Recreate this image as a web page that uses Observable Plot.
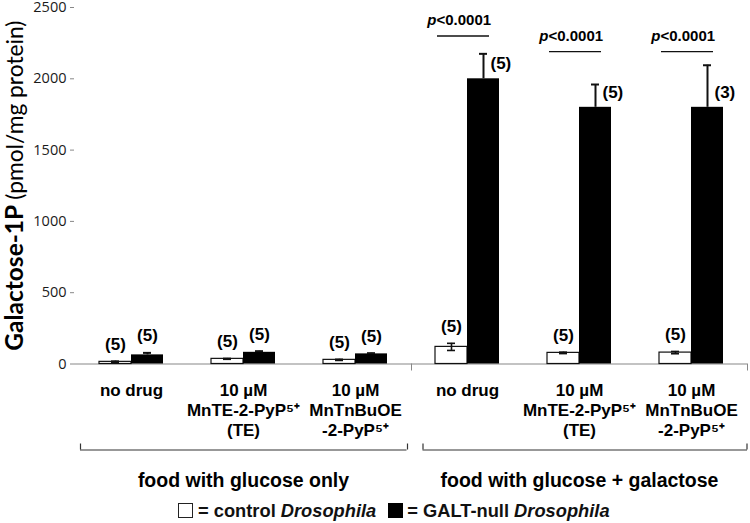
<!DOCTYPE html>
<html><head><meta charset="utf-8">
<script src="https://cdn.jsdelivr.net/npm/d3@7"></script>
<script src="https://cdn.jsdelivr.net/npm/@observablehq/plot@0.6"></script>
<style>
body{margin:0;background:#fff;}
#chart{width:750px;}
#chart svg{display:block;}
.legend{height:27px;display:flex;align-items:center;padding-left:178px;padding-top:2px;box-sizing:border-box;font-family:"Liberation Sans",Arial,sans-serif;font-weight:bold;font-size:18.3px;color:#111;}
.sw{display:inline-block;width:13px;height:13px;border:1.5px solid #222;margin-right:5px;box-sizing:content-box;}
.sw.black{background:#000;border-color:#000;margin-left:12px;margin-right:4px;}
.legend i{font-style:italic;}
</style></head><body><div id="chart"></div>
<div class="legend"><span class="sw"></span><span>= control <i>Drosophila</i></span><span class="sw black"></span><span>= GALT-null <i>Drosophila</i></span></div>
<script>
const groups = ["g1","g2","g3","g4","g5","g6"];
const catLabels = ["no drug", "10 µM\nMnTE-2-PyP⁵⁺\n(TE)", "10 µM\nMnTnBuOE\n-2-PyP⁵⁺", "no drug", "10 µM\nMnTE-2-PyP⁵⁺\n(TE)", "10 µM\nMnTnBuOE\n-2-PyP⁵⁺"];
const controlMean = [15, 36, 29, 120, 78, 80];
const controlErr  = [5, 3, 4, 25, 5, 8];
const galtMean    = [64, 82, 71, 2000, 1800, 1800];
const galtErr     = [14, 8, 5, 175, 160, 295];
const controlN    = [5, 5, 5, 5, 5, 5];
const galtN       = [5, 5, 5, 5, 5, 3];
const yTicks = [0, 500, 1000, 1500, 2000, 2500];
const pGroups = ["g4", "g5", "g6"];
const pLineValue = [2300, 2190, 2190];
const pValueText = "<0.0001";
const foodLabels = ["food with glucose only", "food with glucose + galactose"];
const foodFirst = ["g1", "g4"];
const foodMid = ["g2", "g5"];
const foodLast = ["g3", "g6"];
const yTitleBold = "Galactose-1P";
const yTitleRest = "(pmol/mg protein)";

const control = groups.map((g, i) => ({g, label: catLabels[i], v: controlMean[i], e: controlErr[i], n: controlN[i]}));
const galt = groups.map((g, i) => ({g, v: galtMean[i], e: galtErr[i], n: galtN[i]}));
const pRows = pGroups.map((g, i) => ({g, v: pLineValue[i]}));
const foodRows = foodLabels.map((t, i) => ({t, a: foodFirst[i], m: foodMid[i], b: foodLast[i]}));

const F = "Liberation Sans, Arial, sans-serif";
const zero = () => 0;

const plot = Plot.plot({
  width: 750, height: 496,
  marginLeft: 74, marginRight: 3, marginTop: 7, marginBottom: 132.5,
  style: {fontFamily: F, fontSize: "15px", color: "#000", background: "#fff"},
  x: {type: "band", domain: groups, padding: 0, axis: null},
  y: {domain: [0, 2500], axis: null},
  marks: [
    Plot.axisY({ticks: yTicks, tickFormat: () => "", tickSize: 4, line: true, label: null, stroke: "#888"}),
    Plot.text(yTicks, {y: d => d, frameAnchor: "left", dx: -8, textAnchor: "end", text: d => String(d),
      fontSize: 14.5, fill: "#1a1a1a", fontFamily: "Open Sans, sans-serif"}),
    Plot.ruleY([0], {stroke: "#888", strokeWidth: 1.2}),
    Plot.ruleX(["g4"], {x: d => d, y1: zero, y2: zero, dx: -56, insetBottom: -7, stroke: "#888"}),
    Plot.ruleX(["g6"], {x: d => d, y1: zero, y2: zero, dx: 56, insetBottom: -7, stroke: "#888"}),
    // bars
    Plot.barY(control, {x: "g", y: "v", fill: "white", stroke: "#111", strokeWidth: 1.2, insetLeft: 24, insetRight: 56}),
    Plot.barY(galt, {x: "g", y: "v", fill: "black", insetLeft: 56, insetRight: 24}),
    // error bars
    Plot.ruleX(control, {x: "g", y1: d => d.v - d.e, y2: d => d.v + d.e, dx: -16, stroke: "#111", strokeWidth: 1.6}),
    Plot.tickY(control, {x: "g", y: d => d.v + d.e, insetLeft: 36, insetRight: 68, stroke: "#111", strokeWidth: 1.6}),
    Plot.tickY(control, {x: "g", y: d => d.v - d.e, insetLeft: 36, insetRight: 68, stroke: "#111", strokeWidth: 1.6}),
    Plot.ruleX(galt, {x: "g", y1: "v", y2: d => d.v + d.e, dx: 16, stroke: "#111", strokeWidth: 2}),
    Plot.tickY(galt, {x: "g", y: d => d.v + d.e, insetLeft: 68, insetRight: 36, stroke: "#111", strokeWidth: 2}),
    // n labels
    Plot.text(control, {x: "g", y: d => d.v + d.e, dx: -16, dy: -17, text: d => `(${d.n})`, fontWeight: "bold", fontSize: 17}),
    Plot.text(galt.filter(d => d.v < 1000), {x: "g", y: d => d.v + d.e, dx: 16, dy: -17, text: d => `(${d.n})`, fontWeight: "bold", fontSize: 17}),
    Plot.text(galt.filter(d => d.v >= 1000), {x: "g", y: "v", dx: 23, dy: -15, textAnchor: "start", text: d => `(${d.n})`, fontWeight: "bold", fontSize: 17}),
    // p-value annotations
    Plot.ruleY(pRows, {x1: "g", x2: "g", y: "v", insetLeft: 26, insetRight: 34, stroke: "#111", strokeWidth: 1.3}),
    Plot.text(pRows, {x: "g", y: "v", text: () => "p", dx: -31, dy: -16, textAnchor: "end", fontStyle: "italic", fontWeight: "bold", fontSize: 15}),
    Plot.text(pRows, {x: "g", y: "v", text: () => pValueText, dx: -31, dy: -16, textAnchor: "start", fontWeight: "bold", fontSize: 15}),
    // category labels
    Plot.text(control, {x: "g", y: zero, text: "label", dy: 17.5, lineAnchor: "top", lineHeight: 1.18, fontWeight: "bold", fontSize: 17}),
    // brackets
    Plot.ruleY(foodRows.slice(0, 1), {x1: "a", x2: "b", y: zero, dy: 86, insetLeft: 5, insetRight: 4.5, stroke: "#333", strokeWidth: 1.2}),
    Plot.ruleY(foodRows.slice(1), {x1: "a", x2: "b", y: zero, dy: 86, insetLeft: 11.5, insetRight: 0, stroke: "#333", strokeWidth: 1.2}),
    Plot.ruleX(foodRows.slice(0, 1), {x: "a", y1: zero, y2: zero, dx: -51, dy: 86, insetTop: -6, stroke: "#333", strokeWidth: 1.2}),
    Plot.ruleX(foodRows.slice(0, 1), {x: "b", y1: zero, y2: zero, dx: 52, dy: 86, insetTop: -6, stroke: "#333", strokeWidth: 1.2}),
    Plot.ruleX(foodRows.slice(1), {x: "a", y1: zero, y2: zero, dx: -44.5, dy: 86, insetTop: -6, stroke: "#333", strokeWidth: 1.2}),
    Plot.ruleX(foodRows.slice(1), {x: "b", y1: zero, y2: zero, dx: 55.5, dy: 86, insetTop: -6, stroke: "#333", strokeWidth: 1.2}),
    Plot.text(foodRows, {x: "m", y: zero, text: "t", dy: 116.5, fontWeight: "bold", fontSize: 19.5}),
    // y title
    Plot.text([yTitleBold], {frameAnchor: "left", rotate: -90, textAnchor: "end", dx: -59, dy: 19, fontWeight: "bold", fontSize: 24.5, fontFamily: "Lato, sans-serif"}),
    Plot.text([yTitleRest], {frameAnchor: "left", rotate: -90, textAnchor: "start", dx: -59, dy: 14, fontSize: 22.8, fontFamily: "Lato, sans-serif"})
  ]
});
document.getElementById("chart").appendChild(plot);
</script></body></html>
